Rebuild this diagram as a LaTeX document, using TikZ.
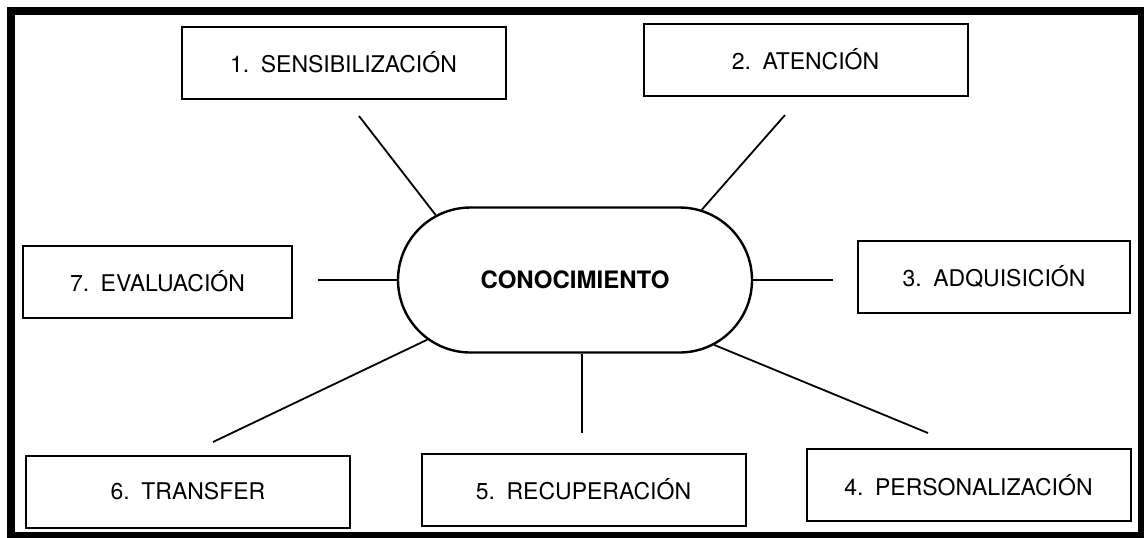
\documentclass[tikz,border=0pt]{standalone}
\usepackage{fontspec}
\setmainfont{TeX Gyre Heros}
\usetikzlibrary{shapes.misc}

\tikzset{
  caja/.style={draw, line width=1pt, minimum width=162pt, minimum height=36pt, inner sep=0pt, font=\fontsize{11.5}{14}\selectfont},
  enlace/.style={line width=0.9pt}
}

\begin{document}
\begin{tikzpicture}[x=0.5pt, y=-0.5pt]

\useasboundingbox (0,0) rectangle (1144,537);
\draw[line width=4pt] (11,11) rectangle (1142,536);

\node[draw, rounded rectangle, line width=1.2pt, minimum width=177pt, minimum height=72.5pt, inner sep=0pt,
      font=\bfseries\fontsize{12}{14}\selectfont] (K) at (575,280) {CONOCIMIENTO};

\node[caja] (b1) at (343.5,62.5) {1.\enspace SENSIBILIZACIÓN};
\node[caja] (b2) at (805.5,59.5) {2.\enspace ATENCIÓN};
\node[caja, minimum width=136pt] (b3) at (994,277) {3.\enspace ADQUISICIÓN};
\node[caja] (b4) at (968.5,485) {4.\enspace PERSONALIZACIÓN};
\node[caja] (b5) at (583.5,489.5) {5.\enspace RECUPERACIÓN};
\node[caja] (b6) at (188,491.5) {6.\enspace TRANSFER};
\node[caja, minimum width=134.5pt] (b7) at (157.5,281.5) {7.\enspace EVALUACIÓN};

\coordinate (e1) at (359,116);
\coordinate (e2) at (785,115);
\coordinate (e3) at (833,280);
\coordinate (e4) at (928,433);
\coordinate (e5) at (582,433);
\coordinate (e6) at (213,442);
\coordinate (e7) at (318,280);

\draw[enlace] (e1) -- (K.155.8);
\draw[enlace] (e2) -- (K.29);
\draw[enlace] (e3) -- (K.east);
\draw[enlace] (e4) -- (K.-25.4);
\draw[enlace] (e5) -- (e5 |- K.south);
\draw[enlace] (e6) -- (K.-158.3);
\draw[enlace] (e7) -- (K.west);

\end{tikzpicture}
\end{document}
